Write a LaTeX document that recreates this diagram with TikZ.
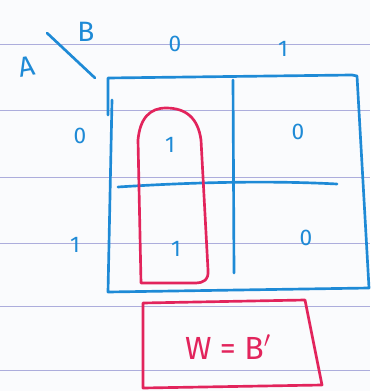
\documentclass[tikz,border=0pt]{standalone}
\usepackage{fontspec}
\setmainfont{Fira Sans}
\usetikzlibrary{positioning, calc}
\definecolor{tintaazul}{HTML}{1E8AD6}
\definecolor{tintaroja}{HTML}{E2245C}
\definecolor{renglon}{HTML}{ACADDC}
\definecolor{papel}{HTML}{FAFBFD}
\tikzset{
  renglones/.style={renglon, line width=0.7pt},
  trazo/.style={tintaazul, line width=2pt, line cap=round, line join=round},
  trazor/.style={tintaroja, line width=2pt, line cap=round, line join=round},
  cifra/.style={text=tintaazul, font=\fontsize{17}{17}\selectfont, inner sep=0pt},
  letra/.style={text=tintaazul, font=\fontsize{21}{21}\selectfont, inner sep=0pt},
}

\begin{document}
\begin{tikzpicture}[x=0.75pt, y=-0.75pt]
  \useasboundingbox (0,0) rectangle (370,391);
  \fill[papel] (0,0) rectangle (370,391);
  % lined paper
  \foreach \y in {44,110,177,243,306,370}
    \draw[renglones] (0,\y) -- (370,\y);
  % corner labels
  \draw[trazo] (47,33) -- (95,78);
  \node[letra, rotate=10] (A) at (27,67) {A};
  \node[letra] (B) at (86,32) {B};
  \node[cifra] (B0) at (175,44) {0};
  \node[cifra] (B1) at (283,49) {1};
  \node[cifra] (A0) at (80,136) {0};
  \node[cifra] (A1) at (75,245) {1};
  % map grid
  \draw[trazo] (108,115) -- (108,78) -- (352,75) -- (357,76) -- (369,288) -- (108,292) -- (112,100);
  \draw[trazo] (233,80) -- (234,273);
  \draw[trazo] (118,187) .. controls (180,183) and (260,180) .. (337,184);
  % cells
  \node[cifra] (c00) at (170,145) {1};
  \node[cifra] (c01) at (298,132) {0};
  \node[cifra] (c10) at (176,249) {1};
  \node[cifra] (c11) at (306,238) {0};
  % group loop
  \draw[trazor] (141,283) -- (138,140) .. controls (140,118) and (150,108) .. (166,108)
    .. controls (186,108) and (198,118) .. (201,140) -- (208,270)
    .. controls (209,280) and (203,283) .. (196,283) -- cycle;
  % result box
  \draw[trazor] (143,303) -- (305,300) -- (322,385) -- (143,388) -- cycle;
  \node[text=tintaroja, font=\fontsize{24}{24}\selectfont, inner sep=0pt] (res) at (228,347) {W = B$'$};
\end{tikzpicture}
\end{document}
